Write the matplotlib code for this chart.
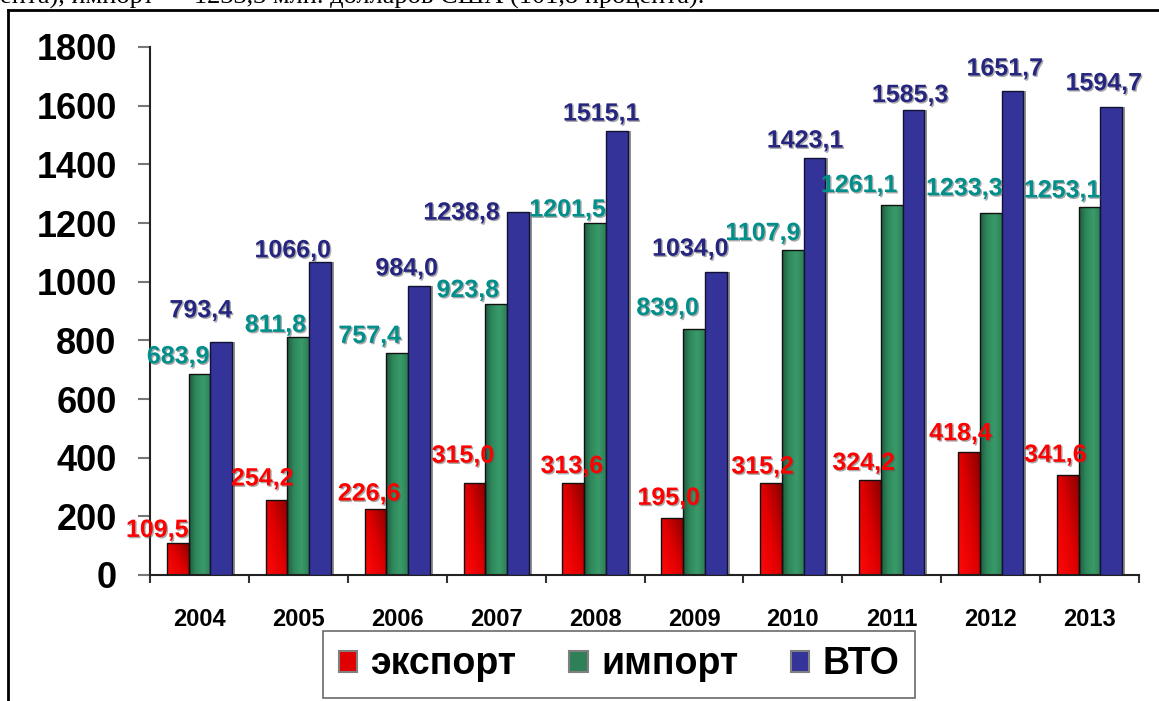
import numpy as np
import matplotlib
matplotlib.use("Agg")
import matplotlib.pyplot as plt
import matplotlib.patheffects as pe
from matplotlib.colors import LinearSegmentedColormap
from matplotlib.patches import Patch
from matplotlib.lines import Line2D

# ── data ──────────────────────────────────────────────────────────────────────
years   = ["2004", "2005", "2006", "2007", "2008", "2009", "2010", "2011", "2012", "2013"]
export  = [109.5, 254.2, 226.6, 315.0, 313.6, 195.0, 315.2, 324.2, 418.4, 341.6]
imports = [683.9, 811.8, 757.4, 923.8, 1201.5, 839.0, 1107.9, 1261.1, 1233.3, 1253.1]
vto     = [793.4, 1066.0, 984.0, 1238.8, 1515.1, 1034.0, 1423.1, 1585.3, 1651.7, 1594.7]
series_names = ["экспорт", "импорт", "ВТО"]
yticks  = [0, 200, 400, 600, 800, 1000, 1200, 1400, 1600, 1800]
top_line = "ента), импорт — 1233,3 млн. долларов США (101,8 процента)."

# label nudges in pixels (dx from bar right edge, gap above bar top)
red_dx   = [0, 6, 14, 9, 19, 17, 12, 14, 12, 8]
red_gap  = [6, 15, 8, 20, 10, 13, 9, 10, 12, 13]
grn_dx   = [-1, -3, -7, -8, 0, -6, -3, -5, 1, 0]
grn_gap  = [11, 5, 10, 7, 6, 14, 10, 13, 18, 10]
blu_dx   = [0, 0, 8, -29, 12, 2, 18, 24, 20, 20]
blu_gap  = [25, 5, 11, -8, 10, 16, 10, 8, 15, 17]

FONT = "Liberation Sans"
W, H = 1159, 701
fig = plt.figure(figsize=(W / 100, H / 100), dpi=100)
ax = fig.add_axes([150 / W, 1 - 575 / H, (1139 - 150) / W, (575 - 47) / H])

x = np.arange(len(years))
bw = 0.22

red_cmap = LinearSegmentedColormap.from_list("r", ["#ff0a0a", "#e00000", "#8a0000"])
grn_cmap = LinearSegmentedColormap.from_list("g", ["#1f5e40", "#2f8a5c", "#3a9a6a", "#2e8058"])

def grad_bars(xs, vals, cmap, diag):
    bars = ax.bar(xs, vals, bw, facecolor="none", edgecolor="#111111", lw=1.0, zorder=3)
    for b in bars:
        x0, w, h = b.get_x(), b.get_width(), b.get_height()
        gx = np.linspace(0, 1, 32)
        if diag:
            gy = np.linspace(1, 0, 64)[:, None]
            g = np.clip(0.55 * gx[None, :] + 0.45 * gy, 0, 1)
        else:
            g = np.tile(gx, (2, 1))
        im = ax.imshow(g, extent=[x0, x0 + w, 0, h], origin="upper", cmap=cmap,
                       aspect="auto", interpolation="bicubic", zorder=2)
        im.set_clip_path(b)
    return bars

def shadows(xs, vals):
    ax.bar(xs + 0.03, vals, bw, color="#909090", zorder=1)

shadows(x - bw, export)
shadows(x, imports)
shadows(x + bw, vto)
b_red = grad_bars(x - bw, export, red_cmap, True)
b_grn = grad_bars(x, imports, grn_cmap, False)
b_blu = ax.bar(x + bw, vto, bw, color="#333399", edgecolor="#111133", lw=1.0, zorder=3)

# ── value labels ─────────────────────────────────────────────────────────────
shadow = [pe.withSimplePatchShadow(offset=(1, -1), shadow_rgbFace="#555555", alpha=0.5)]
def labels(bars, vals, dxs, gaps, color):
    for b, v, dx, gp in zip(bars, vals, dxs, gaps):
        ax.annotate(f"{v:.1f}".replace(".", ","), xy=(b.get_x() + b.get_width(), v),
                    xytext=(dx, gp), textcoords="offset pixels", ha="right",
                    va="baseline", fontsize=18, fontweight="bold", family=FONT,
                    color=color, zorder=5, path_effects=shadow, annotation_clip=False)

labels(b_red, export, red_dx, red_gap, "#ff0000")
labels(b_grn, imports, grn_dx, grn_gap, "#008f8a")
labels(b_blu, vto, blu_dx, blu_gap, "#262680")

# ── axes ─────────────────────────────────────────────────────────────────────
ax.set_xlim(-0.5, len(years) - 0.5)
ax.set_ylim(0, 1800)
ax.set_yticks(yticks)
ax.set_yticklabels([str(t) for t in yticks], fontsize=26, fontweight="bold", family=FONT)
ax.tick_params(axis="y", length=9, width=1.5, color="#777777", pad=15)
ax.set_xticks(x)
ax.set_xticklabels(years, fontsize=17, fontweight="bold", family=FONT)
ax.tick_params(axis="x", which="major", length=0, pad=24)
ax.set_xticks(np.arange(len(years) + 1) - 0.5, minor=True)
ax.tick_params(axis="x", which="minor", length=6, width=1.5, color="#333333")
for s in ["top", "right"]:
    ax.spines[s].set_visible(False)
for s in ["left", "bottom"]:
    ax.spines[s].set_linewidth(1.5)
    ax.spines[s].set_color("#222222")

# ── legend ───────────────────────────────────────────────────────────────────
handles = [Patch(facecolor=c, edgecolor="#808080", lw=1.5)
           for c in ["#e00000", "#2e8058", "#333399"]]
leg = fig.legend(handles, series_names, loc="center", bbox_to_anchor=(619 / W, 1 - 664.5 / H),
                 ncol=3, frameon=True, fancybox=False, handlelength=0.5, handleheight=0.5,
                 handletextpad=0.35, columnspacing=1.4, borderpad=0.42,
                 prop={"family": FONT, "weight": "bold", "size": 27})
leg.get_frame().set_edgecolor("#444444")
leg.get_frame().set_linewidth(1.2)

# ── page frame and cut-off text line ─────────────────────────────────────────
fig.add_artist(Line2D([8 / W, 8 / W], [0, 1 - 10 / H], color="black", lw=2))
fig.add_artist(Line2D([8 / W, 1], [1 - 10 / H, 1 - 10 / H], color="black", lw=2))
fig.text(0.0, 1 - 4 / H, top_line, family="Liberation Serif", fontsize=19,
         va="baseline", ha="left")

fig.savefig("out.png", dpi=100)
